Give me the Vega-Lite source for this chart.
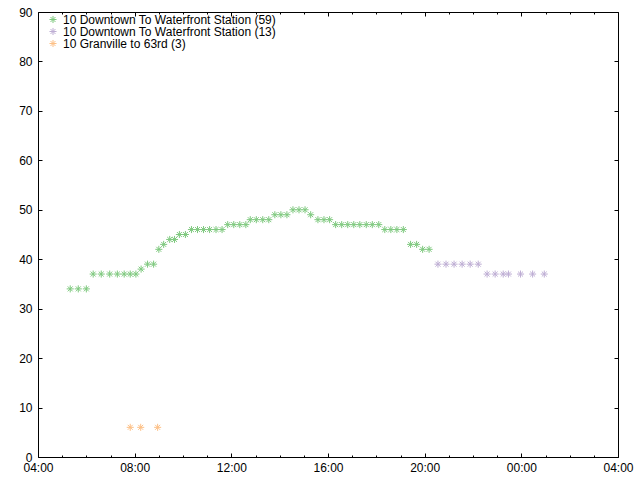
{
  "$schema": "https://vega.github.io/schema/vega-lite/v6.json",
  "width": 580,
  "height": 445,
  "autosize": {"type": "none"},
  "padding": {"left": 38, "top": 12, "right": 22, "bottom": 23},
  "background": "white",
  "config": {
    "view": {"stroke": "black", "strokeWidth": 1},
    "font": "Liberation Sans",
    "axis": {"domain": false, "grid": false, "tickColor": "black", "labelColor": "black", "labelFont": "Liberation Sans", "labelFontSize": 12, "title": null, "labelFlush": false, "labelOverlap": false},
    "legend": {"labelFont": "Liberation Sans", "labelFontSize": 12, "labelColor": "black"}
  },
  "data": {"values": [
    {"t": "2020-01-01T05:20:00Z", "v": 34, "s": "10 Downtown To Waterfront Station (59)"},
    {"t": "2020-01-01T05:40:00Z", "v": 34, "s": "10 Downtown To Waterfront Station (59)"},
    {"t": "2020-01-01T06:00:00Z", "v": 34, "s": "10 Downtown To Waterfront Station (59)"},
    {"t": "2020-01-01T06:17:00Z", "v": 37, "s": "10 Downtown To Waterfront Station (59)"},
    {"t": "2020-01-01T06:37:00Z", "v": 37, "s": "10 Downtown To Waterfront Station (59)"},
    {"t": "2020-01-01T06:58:00Z", "v": 37, "s": "10 Downtown To Waterfront Station (59)"},
    {"t": "2020-01-01T07:17:00Z", "v": 37, "s": "10 Downtown To Waterfront Station (59)"},
    {"t": "2020-01-01T07:34:00Z", "v": 37, "s": "10 Downtown To Waterfront Station (59)"},
    {"t": "2020-01-01T07:49:00Z", "v": 37, "s": "10 Downtown To Waterfront Station (59)"},
    {"t": "2020-01-01T08:03:00Z", "v": 37, "s": "10 Downtown To Waterfront Station (59)"},
    {"t": "2020-01-01T08:16:00Z", "v": 38, "s": "10 Downtown To Waterfront Station (59)"},
    {"t": "2020-01-01T08:32:00Z", "v": 39, "s": "10 Downtown To Waterfront Station (59)"},
    {"t": "2020-01-01T08:47:00Z", "v": 39, "s": "10 Downtown To Waterfront Station (59)"},
    {"t": "2020-01-01T09:00:00Z", "v": 42, "s": "10 Downtown To Waterfront Station (59)"},
    {"t": "2020-01-01T09:12:00Z", "v": 43, "s": "10 Downtown To Waterfront Station (59)"},
    {"t": "2020-01-01T09:27:00Z", "v": 44, "s": "10 Downtown To Waterfront Station (59)"},
    {"t": "2020-01-01T09:39:00Z", "v": 44, "s": "10 Downtown To Waterfront Station (59)"},
    {"t": "2020-01-01T09:51:00Z", "v": 45, "s": "10 Downtown To Waterfront Station (59)"},
    {"t": "2020-01-01T10:06:00Z", "v": 45, "s": "10 Downtown To Waterfront Station (59)"},
    {"t": "2020-01-01T10:21:00Z", "v": 46, "s": "10 Downtown To Waterfront Station (59)"},
    {"t": "2020-01-01T10:36:00Z", "v": 46, "s": "10 Downtown To Waterfront Station (59)"},
    {"t": "2020-01-01T10:51:00Z", "v": 46, "s": "10 Downtown To Waterfront Station (59)"},
    {"t": "2020-01-01T11:06:00Z", "v": 46, "s": "10 Downtown To Waterfront Station (59)"},
    {"t": "2020-01-01T11:22:00Z", "v": 46, "s": "10 Downtown To Waterfront Station (59)"},
    {"t": "2020-01-01T11:37:00Z", "v": 46, "s": "10 Downtown To Waterfront Station (59)"},
    {"t": "2020-01-01T11:51:00Z", "v": 47, "s": "10 Downtown To Waterfront Station (59)"},
    {"t": "2020-01-01T12:06:00Z", "v": 47, "s": "10 Downtown To Waterfront Station (59)"},
    {"t": "2020-01-01T12:21:00Z", "v": 47, "s": "10 Downtown To Waterfront Station (59)"},
    {"t": "2020-01-01T12:36:00Z", "v": 47, "s": "10 Downtown To Waterfront Station (59)"},
    {"t": "2020-01-01T12:47:00Z", "v": 48, "s": "10 Downtown To Waterfront Station (59)"},
    {"t": "2020-01-01T13:02:00Z", "v": 48, "s": "10 Downtown To Waterfront Station (59)"},
    {"t": "2020-01-01T13:18:00Z", "v": 48, "s": "10 Downtown To Waterfront Station (59)"},
    {"t": "2020-01-01T13:33:00Z", "v": 48, "s": "10 Downtown To Waterfront Station (59)"},
    {"t": "2020-01-01T13:48:00Z", "v": 49, "s": "10 Downtown To Waterfront Station (59)"},
    {"t": "2020-01-01T14:03:00Z", "v": 49, "s": "10 Downtown To Waterfront Station (59)"},
    {"t": "2020-01-01T14:18:00Z", "v": 49, "s": "10 Downtown To Waterfront Station (59)"},
    {"t": "2020-01-01T14:33:00Z", "v": 50, "s": "10 Downtown To Waterfront Station (59)"},
    {"t": "2020-01-01T14:48:00Z", "v": 50, "s": "10 Downtown To Waterfront Station (59)"},
    {"t": "2020-01-01T15:03:00Z", "v": 50, "s": "10 Downtown To Waterfront Station (59)"},
    {"t": "2020-01-01T15:17:00Z", "v": 49, "s": "10 Downtown To Waterfront Station (59)"},
    {"t": "2020-01-01T15:35:00Z", "v": 48, "s": "10 Downtown To Waterfront Station (59)"},
    {"t": "2020-01-01T15:50:00Z", "v": 48, "s": "10 Downtown To Waterfront Station (59)"},
    {"t": "2020-01-01T16:04:00Z", "v": 48, "s": "10 Downtown To Waterfront Station (59)"},
    {"t": "2020-01-01T16:19:00Z", "v": 47, "s": "10 Downtown To Waterfront Station (59)"},
    {"t": "2020-01-01T16:34:00Z", "v": 47, "s": "10 Downtown To Waterfront Station (59)"},
    {"t": "2020-01-01T16:49:00Z", "v": 47, "s": "10 Downtown To Waterfront Station (59)"},
    {"t": "2020-01-01T17:04:00Z", "v": 47, "s": "10 Downtown To Waterfront Station (59)"},
    {"t": "2020-01-01T17:19:00Z", "v": 47, "s": "10 Downtown To Waterfront Station (59)"},
    {"t": "2020-01-01T17:35:00Z", "v": 47, "s": "10 Downtown To Waterfront Station (59)"},
    {"t": "2020-01-01T17:50:00Z", "v": 47, "s": "10 Downtown To Waterfront Station (59)"},
    {"t": "2020-01-01T18:06:00Z", "v": 47, "s": "10 Downtown To Waterfront Station (59)"},
    {"t": "2020-01-01T18:21:00Z", "v": 46, "s": "10 Downtown To Waterfront Station (59)"},
    {"t": "2020-01-01T18:36:00Z", "v": 46, "s": "10 Downtown To Waterfront Station (59)"},
    {"t": "2020-01-01T18:51:00Z", "v": 46, "s": "10 Downtown To Waterfront Station (59)"},
    {"t": "2020-01-01T19:07:00Z", "v": 46, "s": "10 Downtown To Waterfront Station (59)"},
    {"t": "2020-01-01T19:25:00Z", "v": 43, "s": "10 Downtown To Waterfront Station (59)"},
    {"t": "2020-01-01T19:40:00Z", "v": 43, "s": "10 Downtown To Waterfront Station (59)"},
    {"t": "2020-01-01T19:55:00Z", "v": 42, "s": "10 Downtown To Waterfront Station (59)"},
    {"t": "2020-01-01T20:11:00Z", "v": 42, "s": "10 Downtown To Waterfront Station (59)"},
    {"t": "2020-01-01T20:33:00Z", "v": 39, "s": "10 Downtown To Waterfront Station (13)"},
    {"t": "2020-01-01T20:53:00Z", "v": 39, "s": "10 Downtown To Waterfront Station (13)"},
    {"t": "2020-01-01T21:13:00Z", "v": 39, "s": "10 Downtown To Waterfront Station (13)"},
    {"t": "2020-01-01T21:33:00Z", "v": 39, "s": "10 Downtown To Waterfront Station (13)"},
    {"t": "2020-01-01T21:53:00Z", "v": 39, "s": "10 Downtown To Waterfront Station (13)"},
    {"t": "2020-01-01T22:13:00Z", "v": 39, "s": "10 Downtown To Waterfront Station (13)"},
    {"t": "2020-01-01T22:35:00Z", "v": 37, "s": "10 Downtown To Waterfront Station (13)"},
    {"t": "2020-01-01T22:55:00Z", "v": 37, "s": "10 Downtown To Waterfront Station (13)"},
    {"t": "2020-01-01T23:15:00Z", "v": 37, "s": "10 Downtown To Waterfront Station (13)"},
    {"t": "2020-01-01T23:28:00Z", "v": 37, "s": "10 Downtown To Waterfront Station (13)"},
    {"t": "2020-01-01T23:58:00Z", "v": 37, "s": "10 Downtown To Waterfront Station (13)"},
    {"t": "2020-01-02T00:28:00Z", "v": 37, "s": "10 Downtown To Waterfront Station (13)"},
    {"t": "2020-01-02T00:57:00Z", "v": 37, "s": "10 Downtown To Waterfront Station (13)"},
    {"t": "2020-01-01T07:49:00Z", "v": 6, "s": "10 Granville to 63rd (3)"},
    {"t": "2020-01-01T08:15:00Z", "v": 6, "s": "10 Granville to 63rd (3)"},
    {"t": "2020-01-01T08:57:00Z", "v": 6, "s": "10 Granville to 63rd (3)"}
  ]},
  "resolve": {"axis": {"x": "independent", "y": "independent"}},
  "layer": [
    {
      "mark": {"type": "point", "shape": "M-1,0H1M0,-1V1M-0.7,-0.7L0.7,0.7M-0.7,0.7L0.7,-0.7", "filled": false, "strokeWidth": 1, "size": 50, "opacity": 1},
      "encoding": {
        "x": {"field": "t", "type": "temporal",
          "scale": {"type": "utc", "domain": [{"year": 2020, "month": 1, "date": 1, "hours": 4, "utc": true}, {"year": 2020, "month": 1, "date": 2, "hours": 4, "utc": true}]},
          "axis": {"orient": "bottom",
            "values": [
              {"year": 2020, "month": 1, "date": 1, "hours": 4, "utc": true},
              {"year": 2020, "month": 1, "date": 1, "hours": 5, "utc": true},
              {"year": 2020, "month": 1, "date": 1, "hours": 6, "utc": true},
              {"year": 2020, "month": 1, "date": 1, "hours": 7, "utc": true},
              {"year": 2020, "month": 1, "date": 1, "hours": 8, "utc": true},
              {"year": 2020, "month": 1, "date": 1, "hours": 9, "utc": true},
              {"year": 2020, "month": 1, "date": 1, "hours": 10, "utc": true},
              {"year": 2020, "month": 1, "date": 1, "hours": 11, "utc": true},
              {"year": 2020, "month": 1, "date": 1, "hours": 12, "utc": true},
              {"year": 2020, "month": 1, "date": 1, "hours": 13, "utc": true},
              {"year": 2020, "month": 1, "date": 1, "hours": 14, "utc": true},
              {"year": 2020, "month": 1, "date": 1, "hours": 15, "utc": true},
              {"year": 2020, "month": 1, "date": 1, "hours": 16, "utc": true},
              {"year": 2020, "month": 1, "date": 1, "hours": 17, "utc": true},
              {"year": 2020, "month": 1, "date": 1, "hours": 18, "utc": true},
              {"year": 2020, "month": 1, "date": 1, "hours": 19, "utc": true},
              {"year": 2020, "month": 1, "date": 1, "hours": 20, "utc": true},
              {"year": 2020, "month": 1, "date": 1, "hours": 21, "utc": true},
              {"year": 2020, "month": 1, "date": 1, "hours": 22, "utc": true},
              {"year": 2020, "month": 1, "date": 1, "hours": 23, "utc": true},
              {"year": 2020, "month": 1, "date": 2, "hours": 0, "utc": true},
              {"year": 2020, "month": 1, "date": 2, "hours": 1, "utc": true},
              {"year": 2020, "month": 1, "date": 2, "hours": 2, "utc": true},
              {"year": 2020, "month": 1, "date": 2, "hours": 3, "utc": true},
              {"year": 2020, "month": 1, "date": 2, "hours": 4, "utc": true}
            ],
            "labelExpr": "utchours(datum.value) % 4 == 0 ? utcFormat(datum.value, '%H:%M') : ''",
            "tickSize": {"condition": {"test": "utchours(datum.value) % 4 == 0", "value": -4}, "value": -2},
            "labelPadding": 9}
        },
        "y": {"field": "v", "type": "quantitative",
          "scale": {"domain": [0, 90], "nice": false, "zero": true},
          "axis": {"orient": "left", "values": [0, 10, 20, 30, 40, 50, 60, 70, 80, 90], "tickSize": -4, "labelPadding": 10}
        },
        "color": {"field": "s", "type": "nominal",
          "scale": {"domain": ["10 Downtown To Waterfront Station (59)", "10 Downtown To Waterfront Station (13)", "10 Granville to 63rd (3)"], "range": ["#7fc97f", "#beaed4", "#fdc086"]},
          "legend": {"title": null, "orient": "none", "legendX": 9, "legendY": 1.5, "symbolType": "M-1,0H1M0,-1V1M-0.7,-0.7L0.7,0.7M-0.7,0.7L0.7,-0.7", "symbolSize": 50, "symbolStrokeWidth": 1, "labelOffset": 4, "rowPadding": -0.5, "padding": 0, "labelLimit": 0}
        }
      }
    },
    {
      "mark": {"type": "point", "opacity": 0},
      "encoding": {
        "x": {"field": "t", "type": "temporal",
          "axis": {"orient": "top", "labels": false,
            "values": [
              {"year": 2020, "month": 1, "date": 1, "hours": 4, "utc": true},
              {"year": 2020, "month": 1, "date": 1, "hours": 5, "utc": true},
              {"year": 2020, "month": 1, "date": 1, "hours": 6, "utc": true},
              {"year": 2020, "month": 1, "date": 1, "hours": 7, "utc": true},
              {"year": 2020, "month": 1, "date": 1, "hours": 8, "utc": true},
              {"year": 2020, "month": 1, "date": 1, "hours": 9, "utc": true},
              {"year": 2020, "month": 1, "date": 1, "hours": 10, "utc": true},
              {"year": 2020, "month": 1, "date": 1, "hours": 11, "utc": true},
              {"year": 2020, "month": 1, "date": 1, "hours": 12, "utc": true},
              {"year": 2020, "month": 1, "date": 1, "hours": 13, "utc": true},
              {"year": 2020, "month": 1, "date": 1, "hours": 14, "utc": true},
              {"year": 2020, "month": 1, "date": 1, "hours": 15, "utc": true},
              {"year": 2020, "month": 1, "date": 1, "hours": 16, "utc": true},
              {"year": 2020, "month": 1, "date": 1, "hours": 17, "utc": true},
              {"year": 2020, "month": 1, "date": 1, "hours": 18, "utc": true},
              {"year": 2020, "month": 1, "date": 1, "hours": 19, "utc": true},
              {"year": 2020, "month": 1, "date": 1, "hours": 20, "utc": true},
              {"year": 2020, "month": 1, "date": 1, "hours": 21, "utc": true},
              {"year": 2020, "month": 1, "date": 1, "hours": 22, "utc": true},
              {"year": 2020, "month": 1, "date": 1, "hours": 23, "utc": true},
              {"year": 2020, "month": 1, "date": 2, "hours": 0, "utc": true},
              {"year": 2020, "month": 1, "date": 2, "hours": 1, "utc": true},
              {"year": 2020, "month": 1, "date": 2, "hours": 2, "utc": true},
              {"year": 2020, "month": 1, "date": 2, "hours": 3, "utc": true},
              {"year": 2020, "month": 1, "date": 2, "hours": 4, "utc": true}
            ],
            "tickSize": {"condition": {"test": "utchours(datum.value) % 4 == 0", "value": -4}, "value": -2}}
        },
        "y": {"field": "v", "type": "quantitative",
          "axis": {"orient": "right", "labels": false, "values": [0, 10, 20, 30, 40, 50, 60, 70, 80, 90], "tickSize": -4}
        }
      }
    }
  ]
}
